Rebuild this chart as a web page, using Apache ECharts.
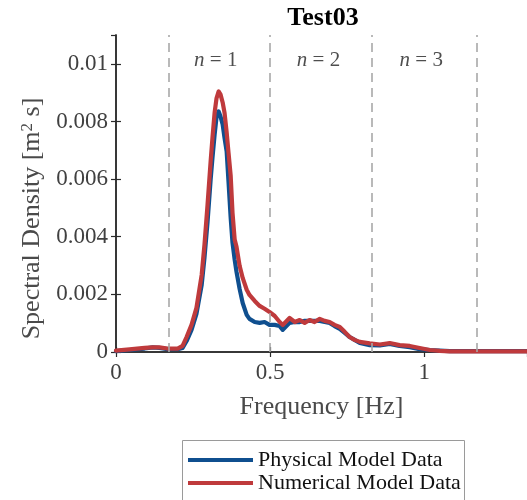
<!DOCTYPE html>
<html><head><meta charset="utf-8">
<script src="https://cdn.jsdelivr.net/npm/echarts@6/dist/echarts.min.js"></script>
<style>html,body{margin:0;padding:0;background:#fff}#c{width:527px;height:500px}</style>
</head><body><div id="c"></div>
<script>
// Frequency [Hz]
const frequency = [0, 0.044, 0.093, 0.119, 0.141, 0.167, 0.200, 0.216, 0.229, 0.245, 0.261, 0.278, 0.287, 0.297, 0.307, 0.313, 0.320, 0.326, 0.333, 0.339, 0.346, 0.352, 0.359, 0.365, 0.372, 0.378, 0.385, 0.391, 0.401, 0.411, 0.424, 0.433, 0.450, 0.466, 0.482, 0.498, 0.515, 0.531, 0.541, 0.547, 0.563, 0.580, 0.596, 0.612, 0.628, 0.644, 0.661, 0.677, 0.693, 0.709, 0.726, 0.742, 0.758, 0.774, 0.791, 0.823, 0.856, 0.888, 0.920, 0.953, 0.985, 1.018, 1.050, 1.083, 1.148, 1.245, 1.333];
// Spectral density [m^2 s]
const physicalModel = [0.00003, 0.00007, 0.00012, 0.00016, 0.00014, 0.00010, 0.00010, 0.00014, 0.00038, 0.00077, 0.00132, 0.00233, 0.00327, 0.00452, 0.00598, 0.00675, 0.00755, 0.00814, 0.00835, 0.00817, 0.00790, 0.00744, 0.00696, 0.00591, 0.00466, 0.00379, 0.00320, 0.00278, 0.00219, 0.00170, 0.00129, 0.00115, 0.00104, 0.00101, 0.00104, 0.00094, 0.00094, 0.00090, 0.00077, 0.00080, 0.00101, 0.00104, 0.00104, 0.00108, 0.00108, 0.00108, 0.00108, 0.00104, 0.00101, 0.00090, 0.00080, 0.00066, 0.00052, 0.00042, 0.00031, 0.00024, 0.00023, 0.00028, 0.00021, 0.00017, 0.00010, 0.00007, 0.00005, 0.00003, 0.00003, 0.00003, 0.00003];
const numericalModel = [0.00005, 0.00009, 0.00014, 0.00016, 0.00016, 0.00012, 0.00012, 0.00021, 0.00052, 0.00094, 0.00153, 0.00268, 0.00372, 0.00511, 0.00661, 0.00744, 0.00831, 0.00880, 0.00904, 0.00894, 0.00866, 0.00831, 0.00762, 0.00692, 0.00612, 0.00483, 0.00390, 0.00365, 0.00299, 0.00257, 0.00216, 0.00198, 0.00177, 0.00160, 0.00150, 0.00139, 0.00125, 0.00104, 0.00094, 0.00094, 0.00118, 0.00104, 0.00111, 0.00101, 0.00111, 0.00104, 0.00115, 0.00108, 0.00104, 0.00094, 0.00087, 0.00070, 0.00052, 0.00042, 0.00035, 0.00030, 0.00026, 0.00031, 0.00024, 0.00021, 0.00014, 0.00007, 0.00004, 0.00002, 0.00002, 0.00002, 0.00002];
// Mode boundaries and mode label centres [Hz]
const modeBounds = [1/6, 1/2, 5/6, 7/6];
const modeCenters = [1/3, 2/3, 1];
const modeNumbers = ['1', '2', '3'];
const modeLabelLevel = 0.0101;
const xTickLabels = ['0', '0.5', '1'];
const yTickLabels = ['0', '0.002', '0.004', '0.006', '0.008', '0.01'];

const FONT = 'Liberation Serif';
const AXIS = '#2b2b2b';
const TXT = '#404040';

const chart = echarts.init(document.getElementById('c'), null, {renderer: 'canvas'});

function fmtX(v) { const i = Math.round(v / 0.5); return Math.abs(v - i * 0.5) < 1e-9 && xTickLabels[i] !== undefined ? xTickLabels[i] : ''; }
function fmtY(v) { const i = Math.round(v / 0.002); return Math.abs(v - i * 0.002) < 1e-9 && yTickLabels[i] !== undefined ? yTickLabels[i] : ''; }

const axisCommon = {
  axisLine: {lineStyle: {color: AXIS, width: 1.5}},
  axisTick: {inside: true, length: 5, lineStyle: {color: AXIS, width: 1.2}},
  splitLine: {show: false}
};

const option = {
  animation: false,
  backgroundColor: '#fff',
  title: {
    text: 'Test03', left: 318, top: 0, textAlign: 'center',
    textStyle: {fontFamily: FONT, fontWeight: 'bold', fontSize: 26, color: '#000'}
  },
  grid: {left: 116, top: 35, width: 412, height: 317},
  graphic: [{
    type: 'rect', silent: true, z: 0,
    shape: {x: 182.5, y: 440.5, width: 282, height: 80},
    style: {fill: '#fff', stroke: '#9a9a9a', lineWidth: 1}
  }],
  legend: {
    orient: 'vertical', left: 188, top: 449, padding: 0, itemGap: 1,
    itemWidth: 65, itemHeight: 4, icon: 'rect', z: 5,
    textStyle: {fontFamily: FONT, fontSize: 22, color: '#111', lineHeight: 22},
    data: ['Physical Model Data', 'Numerical Model Data']
  },
  xAxis: [
    Object.assign({
      type: 'value', min: 0, max: 4/3, interval: 0.5, position: 'bottom',
      axisLabel: {fontFamily: FONT, fontSize: 23, color: TXT, margin: 9, formatter: fmtX, showMaxLabel: false},
      name: 'Frequency [Hz]', nameLocation: 'middle', nameGap: 42,
      nameTextStyle: {fontFamily: FONT, fontSize: 26, color: '#4a4a4a'}
    }, axisCommon),
    Object.assign({
      type: 'value', min: 0, max: 4/3, interval: 0.5, position: 'top',
      axisLabel: {show: false}
    }, axisCommon)
  ],
  yAxis: [
    Object.assign({
      type: 'value', min: 0, max: 0.011, interval: 0.002, position: 'left',
      axisLabel: {fontFamily: FONT, fontSize: 23, color: TXT, margin: 8, formatter: fmtY, showMaxLabel: false},
      name: '{t|Spectral Density [m}{s|2}{t| s]}', nameLocation: 'middle', nameGap: 68, nameRotate: 90,
      nameTextStyle: {
        padding: [0, 50, 0, 0],
        rich: {
          t: {fontFamily: FONT, fontSize: 26, color: '#4a4a4a'},
          s: {fontFamily: FONT, fontSize: 17, color: '#4a4a4a', verticalAlign: 'top'}
        }
      }
    }, axisCommon),
    Object.assign({
      type: 'value', min: 0, max: 0.011, interval: 0.002, position: 'right',
      axisLabel: {show: false}
    }, axisCommon)
  ],
  series: [
    {
      name: 'modes', type: 'scatter', z: 1, silent: true, symbolSize: 0,
      data: modeCenters.map((c) => [c, modeLabelLevel]),
      label: {
        show: true, position: 'inside', offset: [-3, 0],
        formatter: p => '{i|n}{r| = ' + modeNumbers[p.dataIndex] + '}',
        rich: {
          i: {fontFamily: FONT, fontStyle: 'italic', fontSize: 21, color: '#222'},
          r: {fontFamily: FONT, fontSize: 21, color: '#222'}
        }
      },
      markLine: {
        silent: true, symbol: ['none', 'none'],
        label: {show: false},
        lineStyle: {type: [9, 6], color: '#a8a8a8', width: 1.6},
        data: modeBounds.map(v => ({xAxis: v}))
      }
    },
    {
      name: 'Physical Model Data', type: 'line', z: 2, showSymbol: false,
      color: '#0f4f8f',
      lineStyle: {width: 4.2, color: '#0f4f8f', join: 'round', cap: 'round'},
      data: frequency.map((f, i) => [f, physicalModel[i]])
    },
    {
      name: 'Numerical Model Data', type: 'line', z: 3, showSymbol: false,
      color: '#bf3a3c',
      lineStyle: {width: 4.2, color: '#bf3a3c', join: 'round', cap: 'round'},
      data: frequency.map((f, i) => [f, numericalModel[i]])
    }
  ]
};
chart.setOption(option);
</script>
</body></html>
